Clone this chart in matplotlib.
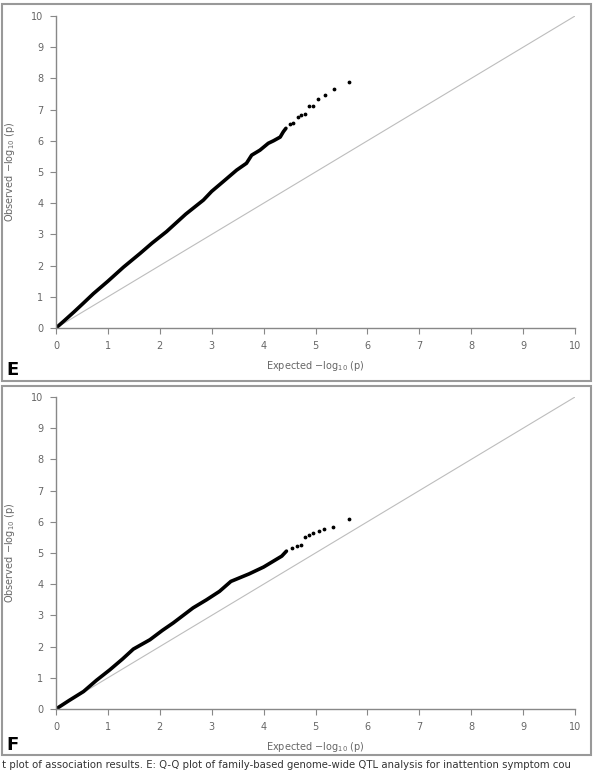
import matplotlib.pyplot as plt
from matplotlib.patches import Rectangle

# Panel E: dense body of the Q-Q curve and the sparse upper tail
e_body_x = [0, 0.15, 0.35, 0.53, 0.72, 1.0, 1.3, 1.62, 1.85, 2.13, 2.5, 2.84, 3.0,
            3.22, 3.48, 3.67, 3.77, 3.93, 4.09, 4.19, 4.32, 4.38, 4.43]
e_body_y = [0, 0.22, 0.52, 0.8, 1.1, 1.5, 1.95, 2.39, 2.72, 3.09, 3.65, 4.10, 4.38,
            4.69, 5.06, 5.28, 5.54, 5.70, 5.92, 6.0, 6.12, 6.29, 6.40]
e_tail_x = [4.51, 4.57, 4.67, 4.73, 4.80, 4.87, 4.95, 5.04, 5.18, 5.35, 5.65]
e_tail_y = [6.53, 6.56, 6.77, 6.82, 6.86, 7.12, 7.12, 7.33, 7.46, 7.65, 7.89]

# Panel F
f_body_x = [0, 0.25, 0.53, 0.78, 1.04, 1.28, 1.49, 1.81, 2.05, 2.26, 2.64, 2.9, 3.15,
            3.37, 3.72, 4.0, 4.25, 4.35, 4.44]
f_body_y = [0, 0.27, 0.56, 0.92, 1.26, 1.6, 1.92, 2.22, 2.52, 2.76, 3.24, 3.5, 3.77,
            4.09, 4.33, 4.55, 4.80, 4.90, 5.06]
f_tail_x = [4.54, 4.64, 4.73, 4.80, 4.88, 4.96, 5.06, 5.16, 5.34, 5.65]
f_tail_y = [5.17, 5.22, 5.27, 5.51, 5.58, 5.65, 5.72, 5.78, 5.83, 6.10]

ticks = list(range(0, 11))
grey = '#666666'
spine_grey = '#888888'

fig = plt.figure(figsize=(5.94, 7.71), dpi=100)

# panel frames (figure coords)
W, H = 594.0, 771.0
for top, bottom in [(4.5, 380.5), (386, 755)]:
    fig.patches.append(Rectangle((1.5 / W, 1 - bottom / H), 589.5 / W, (bottom - top) / H,
                                 transform=fig.transFigure, fill=False,
                                 edgecolor='#999999', lw=1.5))


def qq_panel(rect, bx, by, tx, ty, letter, letter_y):
    ax = fig.add_axes(rect)
    ax.plot([0, 10], [0, 10], color='#bdbdbd', lw=0.8, zorder=1)
    ax.plot(bx, by, color='black', lw=2.6, solid_capstyle='round', zorder=2)
    ax.scatter(tx, ty, s=3, color='black', zorder=3)
    ax.set_xlim(0, 10)
    ax.set_ylim(0, 10)
    ax.set_xticks(ticks)
    ax.set_yticks(ticks)
    for side in ['top', 'right']:
        ax.spines[side].set_visible(False)
    for side in ['left', 'bottom']:
        ax.spines[side].set_color(spine_grey)
        ax.spines[side].set_linewidth(1.0)
    ax.tick_params(direction='out', length=4, width=0.8, color=spine_grey,
                   labelsize=7, labelcolor=grey, pad=5)
    ax.set_xlabel(r'Expected $-$log$_{10}$ (p)', fontsize=7, color=grey, labelpad=6)
    ax.set_ylabel(r'Observed $-$log$_{10}$ (p)', fontsize=7, color=grey, labelpad=10)
    fig.text(6 / W, 1 - letter_y / H, letter, fontsize=13, fontweight='bold',
             ha='left', va='center')
    return ax


qq_panel([56 / W, 1 - 328 / H, 519 / W, 312 / H],
         e_body_x, e_body_y, e_tail_x, e_tail_y, 'E', 370)
qq_panel([56 / W, 1 - 709 / H, 519 / W, 312 / H],
         f_body_x, f_body_y, f_tail_x, f_tail_y, 'F', 745)

fig.text(2 / W, 1 / H,
         't plot of association results. E: Q-Q plot of family-based genome-wide '
         'QTL analysis for inattention symptom cou',
         fontsize=7.3, color='#333333', ha='left', va='bottom')

fig.savefig('out.png', dpi=100)
